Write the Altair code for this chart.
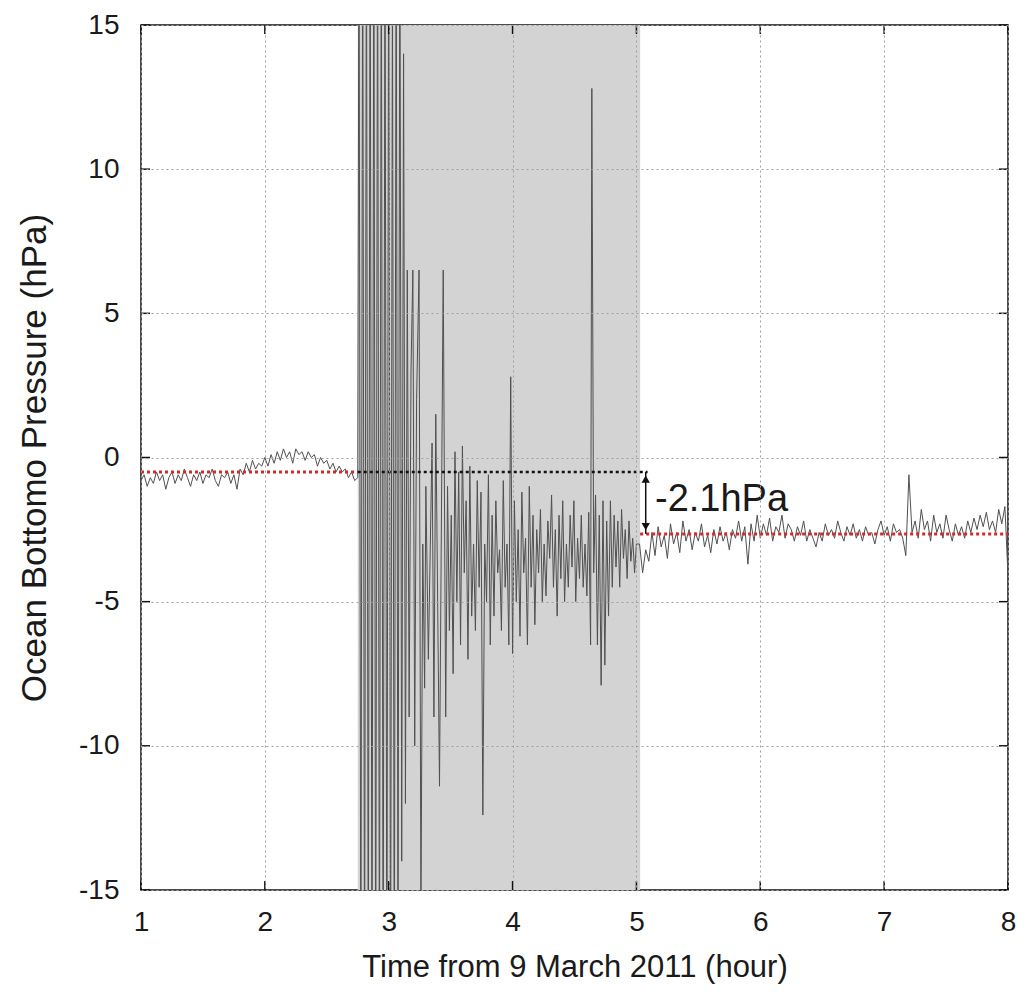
import altair as alt
import pandas as pd

# ---------------- data ----------------
# pre-event segment (hour 1.0 -> 2.75, step 0.025)
seg1_start = 1.0
seg1_step = 0.025
seg1_vals = [-0.8, -0.6, -1.0, -0.7, -0.9, -0.5, -0.8, -0.6, -1.1, -0.7,
             -0.5, -0.9, -0.6, -0.8, -0.4, -0.7, -1.0, -0.6, -0.8, -0.5,
             -0.9, -0.6, -0.7, -0.4, -0.8, -1.0, -0.6, -0.7, -0.5, -0.9,
             -0.6, -1.1, -0.4, -0.6, -0.2, -0.5, -0.1, -0.4, -0.2, -0.3,
             0.0, -0.3, 0.1, -0.2, 0.2, -0.1, 0.3, 0.0, 0.2, -0.2,
             0.3, 0.1, 0.2, -0.1, 0.2, 0.0, 0.1, -0.3, 0.0, -0.2,
             -0.1, -0.4, -0.2, -0.5, -0.3, -0.5, -0.4, -0.7, -0.5, -0.8,
             -0.7]

# earthquake segment (explicit times)
seg2_t = [2.760, 2.775, 2.790, 2.805, 2.820, 2.835, 2.850, 2.865, 2.880, 2.895,
          2.910, 2.925, 2.940, 2.955, 2.970, 2.985, 3.000, 3.015, 3.030, 3.045,
          3.060, 3.075, 3.090, 3.105, 3.120, 3.135, 3.150, 3.165, 3.180, 3.195,
          3.210, 3.225, 3.245, 3.260, 3.275, 3.290, 3.300, 3.320, 3.350, 3.365,
          3.380, 3.410, 3.440, 3.460, 3.475, 3.490, 3.505, 3.520, 3.535, 3.550,
          3.565, 3.580, 3.595, 3.610, 3.625, 3.640, 3.655, 3.670, 3.685, 3.700,
          3.715, 3.730, 3.745, 3.760, 3.775, 3.790, 3.805, 3.820, 3.835, 3.850,
          3.865, 3.880, 3.895, 3.910, 3.925, 3.940, 3.955, 3.970, 3.985, 4.000,
          4.015, 4.030, 4.045, 4.060, 4.075, 4.090, 4.105, 4.120, 4.135, 4.150,
          4.165, 4.180, 4.195, 4.210, 4.225, 4.240, 4.255, 4.270, 4.285, 4.300,
          4.315, 4.330, 4.345, 4.360, 4.375, 4.390, 4.405, 4.420, 4.435, 4.450,
          4.465, 4.480, 4.495, 4.510, 4.525, 4.540, 4.555, 4.570, 4.585, 4.600,
          4.615, 4.630, 4.640, 4.655, 4.670, 4.685, 4.700, 4.715, 4.730, 4.745,
          4.760, 4.775, 4.790, 4.805, 4.820, 4.835, 4.850, 4.865, 4.880, 4.895,
          4.910, 4.925, 4.940, 4.955, 4.970, 4.985, 5.000]
seg2_vals = [20, -20, 20, -20, 20, -20, 20, -20, 20, -20,
             20, -20, 20, -20, 20, -20, 20, -20, 17, -20,
             20, -18, 20, -14, 14, -12, 6.5, -9, 3, 6.5,
             -10, 2, 6.5, -16, -3, -8, -1, -7, 0.5, -9,
             1.5, -11.4, 6.5, -9, -1, -6, -2, -7.5, 0.2, -5,
             -0.5, -6.5, 0.4, -4, -1.5, -7, -0.3, -5.5, -3, -6,
             -0.8, -4.5, -1.2, -12.4, -3, -5, -0.6, -6.5, -2, -5.5,
             -1.5, -4, -3.2, -6, -0.8, -4.5, -3, -6.5, 2.8, -6.8,
             -1.5, -5, -2.5, -6.2, -1.2, -4, -2.8, -6.5, -1.0, -4.5,
             -2, -5.8, -2.5, -4, -1.8, -5, -3, -4.8, -2.2, -3.5,
             -1.3, -4.5, -2.5, -5.5, -2.0, -4.2, -1.5, -5, -3, -4.5,
             -2, -3.8, -1.5, -5, -2.8, -4.2, -2, -4.5, -3, -4.8,
             -1.9, -6.5, 12.8, -4, -1.3, -6.5, -2, -7.9, -1.5, -7.2,
             -2.2, -5.5, -1.5, -4.5, -2, -3.8, -2.2, -4.5, -1.8, -3.5,
             -2.5, -4.2, -2.2, -3.6, -2.8, -4.0, -3.0]

# post-event segment (hour 5.025 -> 8.0, step 0.025)
seg3_start = 5.025
seg3_step = 0.025
seg3_vals = [-3.0, -4.0, -3.2, -3.6, -2.6, -3.4, -2.4, -3.1, -2.7, -3.5,
             -2.3, -3.0, -2.6, -3.3, -2.2, -2.9, -2.5, -3.2, -2.6, -2.9,
             -2.3, -3.1, -2.7, -3.3, -2.5, -3.0, -2.4, -2.9, -2.6, -3.2,
             -2.5, -2.8, -2.2, -2.9, -2.4, -3.7, -2.3, -2.9, -2.0, -2.8,
             -2.3, -2.7, -2.1, -2.9, -2.4, -2.6, -2.0, -2.8, -2.3, -2.5,
             -2.9, -2.4, -2.7, -2.2, -2.9, -2.5, -2.8, -3.1, -2.6, -2.9,
             -2.3, -2.7, -2.5, -2.8, -2.2, -2.6, -2.9, -2.4, -2.7, -2.3,
             -2.8, -2.5, -2.9, -2.4, -2.7, -2.6, -3.0, -2.5, -2.2, -2.7,
             -2.4, -2.9, -2.3, -2.6, -2.5, -2.8, -3.4, -0.6, -2.6, -2.2,
             -2.8, -1.8, -2.5, -2.2, -2.9, -2.0, -2.6, -2.3, -2.8, -2.0,
             -2.5, -2.9, -2.3, -2.7, -2.4, -2.8, -2.2, -2.6, -2.1, -2.5,
             -2.0, -2.4, -1.9, -2.5, -2.2, -2.6, -1.8, -2.3, -1.7, -4.1]

shade_start, shade_end = 2.75, 5.03
level_before, level_after = -0.5, -2.65
ref_end = 5.09
arrow_x = 5.075
note_text = "-2.1hPa"
x_ticks = [1, 2, 3, 4, 5, 6, 7, 8]
y_ticks = [-15, -10, -5, 0, 5, 10, 15]

# ---------------- build table ----------------
t_all = ([seg1_start + i * seg1_step for i in range(len(seg1_vals))]
         + seg2_t
         + [seg3_start + i * seg3_step for i in range(len(seg3_vals))])
v_all = seg1_vals + seg2_vals + seg3_vals
series = pd.DataFrame({"t": t_all, "p": v_all})

W, H = 867, 865
FONT = "Liberation Sans"
INK = "#1a1a1a"

xscale = alt.Scale(domain=[1, 8], nice=False, zero=False)
yscale = alt.Scale(domain=[-15, 15], nice=False, zero=False)

xaxis = alt.Axis(values=x_ticks, labelExpr="toString(datum.value)",
                 title="Time from 9 March 2011 (hour)",
                 labelFontSize=28, titleFontSize=31, labelFont=FONT, titleFont=FONT,
                 labelColor=INK, titleColor=INK, titleFontWeight="normal",
                 ticks=False, domain=False, labelPadding=18, titlePadding=16,
                 grid=True, gridDash=[2, 3], gridColor="#a0a0a0", gridWidth=1,
                 zindex=1, labelFlush=False)
yaxis = alt.Axis(values=y_ticks, labelExpr="toString(datum.value)",
                 title="Ocean Bottomo Pressure (hPa)",
                 labelFontSize=28, titleFontSize=35, labelFont=FONT, titleFont=FONT,
                 labelColor=INK, titleColor=INK, titleFontWeight="normal",
                 ticks=False, domain=False, labelPadding=22, titlePadding=26,
                 grid=True, gridDash=[2, 3], gridColor="#a0a0a0", gridWidth=1,
                 zindex=1, labelFlush=False)

shade = alt.Chart(pd.DataFrame({"a": [shade_start], "b": [shade_end]})).mark_rect(
    color="#d3d3d3").encode(
    x=alt.X("a:Q", scale=xscale, axis=xaxis), x2="b:Q",
    y=alt.value(0), y2=alt.value(H))

line = alt.Chart(series).mark_line(color="#505050", strokeWidth=1, clip=True).encode(
    x=alt.X("t:Q", scale=xscale),
    y=alt.Y("p:Q", scale=yscale, axis=yaxis))

red_df = pd.DataFrame({"a": [1.0, shade_end], "b": [shade_start, 8.0],
                       "y": [level_before, level_after]})
red = alt.Chart(red_df).mark_rule(color="#d22a2a", strokeWidth=3,
                                  strokeDash=[3, 3]).encode(
    x=alt.X("a:Q", scale=xscale), x2="b:Q", y=alt.Y("y:Q", scale=yscale))

blk = alt.Chart(pd.DataFrame({"a": [shade_start], "b": [ref_end], "y": [level_before]})
                ).mark_rule(color="#111111", strokeWidth=2.5, strokeDash=[3, 3]).encode(
    x=alt.X("a:Q", scale=xscale), x2="b:Q", y=alt.Y("y:Q", scale=yscale))

arr = alt.Chart(pd.DataFrame({"x": [arrow_x], "y": [level_before], "y2": [level_after]})
                ).mark_rule(color="#111111", strokeWidth=1.5).encode(
    x=alt.X("x:Q", scale=xscale), y=alt.Y("y:Q", scale=yscale), y2="y2:Q")

heads = alt.Chart(pd.DataFrame({"x": [arrow_x, arrow_x],
                                "y": [level_before - 0.25, level_after + 0.25],
                                "s": ["triangle-up", "triangle-down"]})).mark_point(
    filled=True, color="#111111", size=70, opacity=1).encode(
    x=alt.X("x:Q", scale=xscale), y=alt.Y("y:Q", scale=yscale),
    shape=alt.Shape("s:N", scale=None, legend=None))

note = alt.Chart(pd.DataFrame({"x": [5.15], "y": [(level_before + level_after) / 2 + 0.1],
                               "txt": [note_text]})).mark_text(
    align="left", baseline="middle", fontSize=38, font=FONT, color=INK).encode(
    x=alt.X("x:Q", scale=xscale), y=alt.Y("y:Q", scale=yscale), text="txt:N")

# inward tick marks on all four sides
xt = pd.DataFrame({"v": x_ticks})
yt = pd.DataFrame({"v": y_ticks})
tick_style = dict(color="#111111", thickness=1.5, size=9, opacity=1)
tb = alt.Chart(xt).mark_tick(orient="vertical", **tick_style).encode(
    x=alt.X("v:Q", scale=xscale), y=alt.value(H - 4.5))
tt = alt.Chart(xt).mark_tick(orient="vertical", **tick_style).encode(
    x=alt.X("v:Q", scale=xscale), y=alt.value(4.5))
tl = alt.Chart(yt).mark_tick(orient="horizontal", **tick_style).encode(
    y=alt.Y("v:Q", scale=yscale), x=alt.value(4.5))
tr = alt.Chart(yt).mark_tick(orient="horizontal", **tick_style).encode(
    y=alt.Y("v:Q", scale=yscale), x=alt.value(W - 4.5))

chart = alt.layer(shade, line, red, blk, arr, heads, note, tb, tt, tl, tr).properties(
    width=W, height=H,
    autosize=alt.AutoSizeParams(type="none"),
    padding={"left": 141, "top": 25, "right": 19, "bottom": 104},
    background="white",
).configure_view(stroke="#111111", strokeWidth=1.5)

chart.save("out.html", embed_options={"renderer": "svg", "actions": False})
